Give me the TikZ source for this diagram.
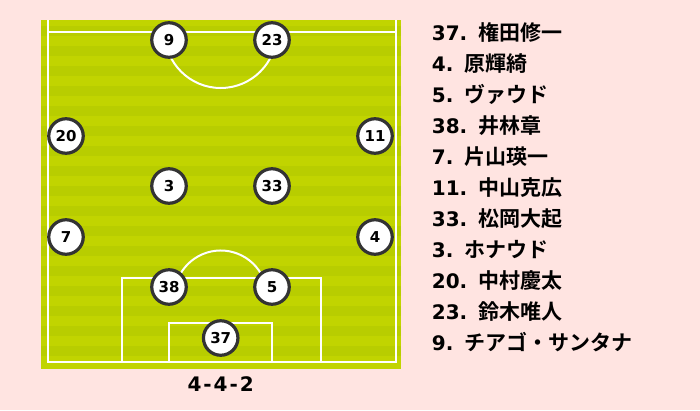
\documentclass[tikz,border=0pt]{standalone}
\usepackage{fontspec}
\newfontfamily\numfont{DejaVu Sans}
\newfontfamily\jpfont{Noto Sans CJK JP}[BoldFont={Noto Sans CJK JP Bold}]
\definecolor{bgpink}{RGB}{255,228,225}
\definecolor{pitchlight}{RGB}{193,212,0}
\definecolor{pitchdark}{RGB}{184,205,0}
\definecolor{ringgray}{RGB}{51,51,51}
\tikzset{
  player/.style={circle, draw=ringgray, line width=3.2pt, fill=white,
    minimum size=34.5pt, inner sep=0pt, font=\numfont\bfseries\fontsize{15}{15}\selectfont},
  pline/.style={white, line width=2pt},
  roster/.style={anchor=base west, inner sep=0pt, font=\bfseries\fontsize{20}{20}\selectfont}
}
\newcommand{\rosterline}[2]{{\numfont #1.}\hskip 11pt{\jpfont\fontsize{21}{21}\selectfont #2}}
\begin{document}
\begin{tikzpicture}[x=1pt, y=-1pt]
  \fill[bgpink] (0,0) rectangle (700,410);
  \useasboundingbox (0,0) rectangle (700,410);

  % pitch
  \fill[pitchlight] (41,20) rectangle (401,369);
  \foreach \y in {26,46,...,360}
    \fill[pitchdark] (41,\y) rectangle (401,\y+10);

  % markings
  \draw[pline] (47.5,20) -- (47.5,362) -- (395.5,362) -- (395.5,20);
  \draw[pline] (47.5,32) -- (395.5,32);
  \draw[pline] (164.7,32) arc[start angle=180, end angle=360, radius=56pt];
  \draw[pline] (121.7,362) -- (121.7,278.3) -- (320.7,278.3) -- (320.7,362);
  \draw[pline] (169.3,362) -- (169.3,323.3) -- (272.3,323.3) -- (272.3,362);
  \draw[pline] (263.3,278.3) arc[start angle=23.7, end angle=156.3, radius=46.5pt];

  % players
  \foreach \n/\px/\py in {37/220.7/338, 38/169/287, 5/272/287, 7/66/237, 4/375/237,
      3/169/186, 33/272/186, 20/66/136, 11/375/136, 9/169/40, 23/272/40}
    \node[player] (p\n) at (\px,\py) {\n};

  \node[font=\numfont\bfseries\fontsize{20}{20}\selectfont] (formation) at (220.7,384)
    {4\kern2pt-\kern2pt4\kern2pt-\kern2pt2};

  % roster
  \foreach \i/\num/\name in {0/37/権田修一, 1/4/原輝綺, 2/5/ヴァウド, 3/38/井林章,
      4/7/片山瑛一, 5/11/中山克広, 6/33/松岡大起, 7/3/ホナウド, 8/20/中村慶太,
      9/23/鈴木唯人, 10/9/チアゴ・サンタナ}
    \node[roster] (r\num) at (431.7,{40+31*\i}) {\rosterline{\num}{\name}};
\end{tikzpicture}
\end{document}
